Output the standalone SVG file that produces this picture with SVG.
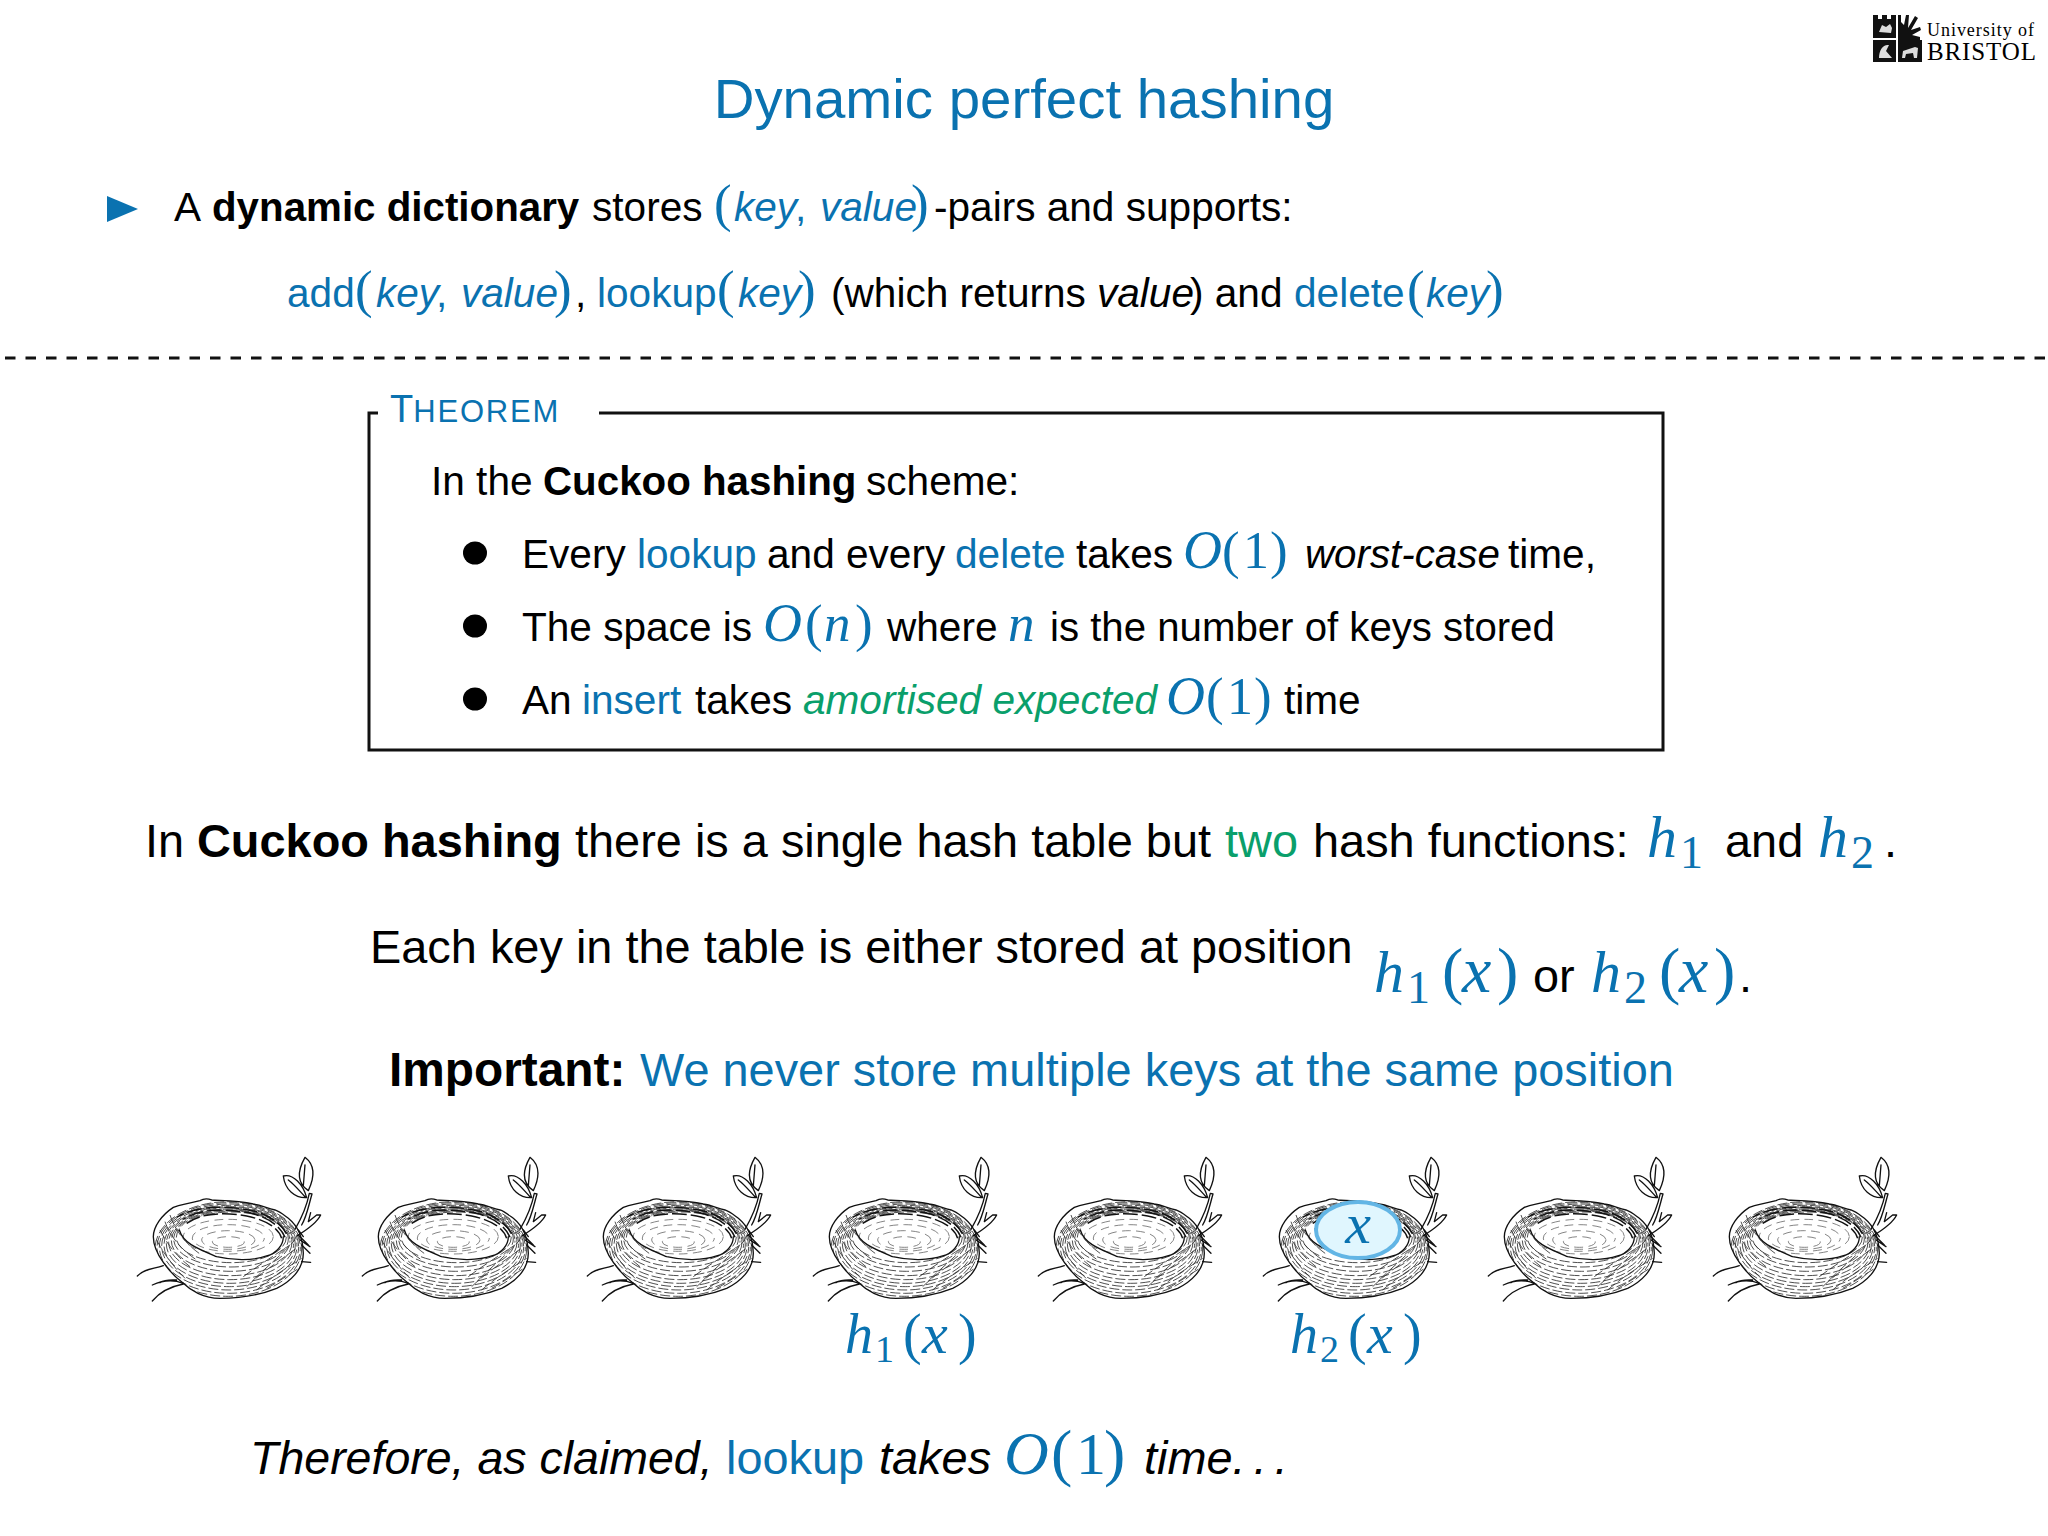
<svg xmlns="http://www.w3.org/2000/svg" xmlns:xlink="http://www.w3.org/1999/xlink" width="2048" height="1536" viewBox="0 0 2048 1536">
<style>
text{font-family:"Liberation Sans",Arial,sans-serif;fill:#000;font-size:40.6px}
.b{font-weight:700;font-size:40.3px}.i{font-style:italic}
.bl{fill:#0a72b0}.gr{fill:#0a9f6b}
.m{font-family:"Liberation Serif","Times New Roman",serif;font-style:italic;fill:#0a72b0}
.r{font-family:"Liberation Serif","Times New Roman",serif;fill:#0a72b0}
.p{font-size:53px}
.big{font-size:46.9px}
.big .b{font-size:46.9px}
.o{fill:none;stroke:#111;stroke-width:4;stroke-linecap:round;stroke-linejoin:round}
.h{fill:none;stroke:#333;stroke-width:2.6;stroke-dasharray:30 9}
.h2{fill:none;stroke:#666;stroke-width:2.4;stroke-dasharray:26 16}
.k{fill:none;stroke:#111;stroke-width:4.5;stroke-dasharray:44 12}
</style>
<defs>
<clipPath id="nc"><path d="M190,460C150,430 100,370 100,320C100,290 125,255 160,232C190,218 240,210 320,212C390,212 470,235 505,265C535,290 550,320 550,370C550,420 510,455 470,475C420,495 360,505 300,505C250,505 210,480 190,460Z"/></clipPath>
<g id="nest">
<path fill="#fff" d="M190,460C150,430 100,370 100,320C100,290 125,255 160,232C190,218 240,210 320,212C390,212 470,235 505,265C535,290 550,320 550,370C550,420 510,455 470,475C420,495 360,505 300,505C250,505 210,480 190,460Z"/>
<g clip-path="url(#nc)">
<ellipse class="h" cx="334" cy="322" rx="165" ry="76"/>
<ellipse class="h" cx="333" cy="327" rx="172" ry="84" stroke-dashoffset="12"/>
<ellipse class="h" cx="332" cy="332" rx="178" ry="92" stroke-dashoffset="24"/>
<ellipse class="h" cx="331" cy="337" rx="185" ry="100"/>
<ellipse class="h" cx="330" cy="341" rx="191" ry="108" stroke-dashoffset="17"/>
<ellipse class="h" cx="329" cy="345" rx="197" ry="115" stroke-dashoffset="5"/>
<ellipse class="h" cx="328" cy="348" rx="203" ry="122" stroke-dashoffset="28"/>
<ellipse class="h" cx="327" cy="351" rx="209" ry="129" stroke-dashoffset="11"/>
<ellipse class="h" cx="326" cy="354" rx="215" ry="136" stroke-dashoffset="20"/>
<ellipse class="h" cx="325" cy="357" rx="220" ry="142"/>
<path class="h" d="M380,470C420,430 470,400 535,350M410,480C450,445 490,420 545,385M440,475C470,460 510,430 545,410M400,450C440,410 480,380 525,330M370,440C410,410 450,385 510,345"/>
<path class="h" d="M120,300C140,340 170,380 210,410M135,275C150,320 185,360 230,390M110,330C130,370 160,410 195,445M150,255C165,300 195,340 240,372"/>
</g>
<path fill="#fff" d="M178,300C190,275 240,250 300,255C380,258 470,285 490,320C495,345 470,372 440,378C400,392 340,392 290,380C230,355 190,340 178,300Z"/>
<path class="k" d="M200,280C240,250 310,245 380,258C430,268 475,290 485,325"/>
<path class="k" d="M170,262C230,225 330,225 410,245C450,258 490,285 505,320" stroke-dashoffset="20"/>
<path class="k" d="M190,268C240,235 320,235 395,250C440,262 480,285 495,322" stroke-dashoffset="36"/>
<ellipse class="h2" cx="325" cy="320" rx="135" ry="52"/>
<ellipse class="h2" cx="325" cy="324" rx="108" ry="40" stroke-dashoffset="14"/>
<ellipse class="h2" cx="325" cy="330" rx="80" ry="28" stroke-dashoffset="6"/>
<ellipse class="h2" cx="325" cy="336" rx="48" ry="16"/>
<path class="o" d="M190,460C150,430 100,370 100,320C100,290 125,255 160,232C185,222 190,225 240,212C250,206 265,206 275,210C300,212 350,210 400,222C425,225 440,235 465,240C480,245 495,258 505,265C535,290 548,320 550,370C550,420 510,455 470,475C420,495 360,505 300,505C250,505 210,480 190,460"/>
<path class="o" d="M178,300C190,340 230,355 290,380C340,392 400,392 440,378C470,370 490,345 490,320"/>
<path class="o" d="M52,438C75,415 100,418 130,407M190,460C160,448 130,450 97,465M190,462C150,470 120,485 97,513M120,458C135,448 150,450 170,450"/>
<path class="o" d="M530,318C560,300 590,280 602,255L590,255L565,275L572,248M545,285C560,260 565,230 576,192L568,190C560,230 550,255 525,298"/>
<path class="o" d="M555,82C585,105 585,140 565,182C540,165 525,135 555,82M555,105L550,168M490,138C520,130 550,165 560,203C525,205 495,180 490,138M505,150C525,165 540,185 555,200"/>
<path class="o" d="M535,315L565,345M540,330L570,350M545,345L570,370M545,395L572,397M535,300L550,320"/>
</g>
</defs>

<text x="1024" y="118" text-anchor="middle" class="bl" style="font-size:56.4px">Dynamic perfect hashing</text>

<g id="logo">
<path fill="#111" d="M1873,15h5v4h4v-4h5v4h4v-4h5v23h-23zM1873,40h23v22h-23zM1898,40h24v22h-24z"/>
<path fill="#111" d="M1898,15h3v7l3,3l2,-10l3,0l-1,13l7,-12l3,2l-7,12l9,-3l1,3l-9,5l8,2v3h-22z"/>
<path d="M1879,32l3,-7l4,2l4,-3l2,4l-1,5zM1879,58c0,-8 4,-14 10,-13l-3,6l6,7zM1903,51l12,-4l3,1l-1,10h-3l-1,-5l-7,1l-1,4h-3z" fill="#ddd"/>
<text x="1927" y="36" style="font-family:'Liberation Serif',serif;font-size:18px" fill="#222" textLength="107">University of</text>
<text x="1927" y="60" style="font-family:'Liberation Serif',serif;font-size:25px" fill="#111" textLength="109">BRISTOL</text>
</g>

<polygon points="107,196 138,209 107,222" fill="#0a72b0"/>
<text y="221">
<tspan x="174">A</tspan><tspan x="212" class="b">dynamic dictionary</tspan><tspan x="592">stores</tspan>
<tspan x="714" class="r p">(</tspan><tspan x="734" class="bl i">key</tspan><tspan x="795" class="bl">,</tspan><tspan x="820" class="bl i">value</tspan><tspan x="911" class="r p">)</tspan><tspan x="934">-pairs and supports:</tspan>
</text>
<text y="307">
<tspan x="287" class="bl">add</tspan><tspan x="355" class="r p">(</tspan><tspan x="376" class="bl i">key</tspan><tspan x="436" class="bl">,</tspan><tspan x="461" class="bl i">value</tspan><tspan x="554" class="r p">)</tspan><tspan x="575">,</tspan>
<tspan x="597" class="bl">lookup</tspan><tspan x="717" class="r p">(</tspan><tspan x="738" class="bl i">key</tspan><tspan x="798" class="r p">)</tspan>
<tspan x="831">(which returns</tspan><tspan x="1097" class="i">value</tspan><tspan x="1190">) and</tspan><tspan x="1294" class="bl">delete</tspan><tspan x="1407" class="r p">(</tspan><tspan x="1426" class="bl i">key</tspan><tspan x="1486" class="r p">)</tspan>
</text>

<line x1="5" y1="358" x2="2046" y2="358" stroke="#111" stroke-width="3" stroke-dasharray="10.5 10"/>

<g id="theorem">
<path d="M378,413H369V750H1663V413H599" fill="none" stroke="#111" stroke-width="3"/>
<text x="390" y="422" class="bl" style="font-size:38px">T<tspan style="font-size:31px;letter-spacing:1.8px">HEOREM</tspan></text>
<text y="495"><tspan x="431">In the</tspan><tspan x="543" class="b">Cuckoo hashing</tspan><tspan x="866">scheme:</tspan></text>
<ellipse cx="475" cy="553" rx="12" ry="11.5"/>
<ellipse cx="475" cy="626" rx="12" ry="11.5"/>
<ellipse cx="475" cy="699" rx="12" ry="11.5"/>
<text y="568"><tspan x="522">Every</tspan><tspan x="637" class="bl">lookup</tspan><tspan x="767">and every</tspan><tspan x="955" class="bl">delete</tspan><tspan x="1076">takes</tspan>
<tspan x="1183" class="m" style="font-size:54px">O</tspan><tspan x="1222" class="r p">(</tspan><tspan x="1243" class="r" style="font-size:52px">1</tspan><tspan x="1270" class="r p">)</tspan>
<tspan x="1305" class="i" style="font-size:40.3px">worst-case</tspan><tspan x="1508">time,</tspan></text>
<text y="641"><tspan x="522">The space is</tspan>
<tspan x="763" class="m" style="font-size:54px">O</tspan><tspan x="805" class="r p">(</tspan><tspan x="824" class="m" style="font-size:53px">n</tspan><tspan x="855" class="r p">)</tspan>
<tspan x="887">where</tspan><tspan x="1008" class="m" style="font-size:53px">n</tspan><tspan x="1050" style="font-size:40.2px">is the number of keys stored</tspan></text>
<text y="714"><tspan x="522">An</tspan><tspan x="582" class="bl">insert</tspan><tspan x="695">takes</tspan><tspan x="803" class="gr i">amortised expected</tspan>
<tspan x="1166" class="m" style="font-size:54px">O</tspan><tspan x="1206" class="r p">(</tspan><tspan x="1227" class="r" style="font-size:52px">1</tspan><tspan x="1254" class="r p">)</tspan>
<tspan x="1284">time</tspan></text>
</g>

<text y="857" class="big"><tspan x="145">In</tspan><tspan x="197" class="b">Cuckoo hashing</tspan><tspan x="575">there is a single hash table but</tspan><tspan x="1225" class="gr">two</tspan><tspan x="1313">hash functions:</tspan>
<tspan x="1647" class="m" style="font-size:60px">h</tspan><tspan x="1680" y="868" class="r" style="font-size:46px">1</tspan><tspan x="1725" y="857">and</tspan><tspan x="1818" class="m" style="font-size:60px">h</tspan><tspan x="1851" y="868" class="r" style="font-size:46px">2</tspan><tspan x="1884" y="857">.</tspan></text>

<text y="963" x="370" class="big">Each key in the table is either stored at position</text>
<text y="992" class="big"><tspan x="1374" class="m" style="font-size:60px">h</tspan><tspan x="1407" y="1003" class="r" style="font-size:46px">1</tspan><tspan x="1442" y="992" class="r" style="font-size:64px">(</tspan><tspan x="1462" class="m" style="font-size:66px">x</tspan><tspan x="1497" class="r" style="font-size:64px">)</tspan>
<tspan x="1533">or</tspan><tspan x="1591" class="m" style="font-size:60px">h</tspan><tspan x="1624" y="1003" class="r" style="font-size:46px">2</tspan><tspan x="1659" y="992" class="r" style="font-size:64px">(</tspan><tspan x="1679" class="m" style="font-size:66px">x</tspan><tspan x="1714" class="r" style="font-size:64px">)</tspan><tspan x="1739">.</tspan></text>

<text y="1086" class="big"><tspan x="389" class="b" style="font-size:47.8px">Important:</tspan><tspan x="640" class="bl">We never store multiple keys at the same position</tspan></text>

<g id="nests">
<use xlink:href="#nest" href="#nest" transform="translate(120,1130) scale(.3333)"/>
<use xlink:href="#nest" href="#nest" transform="translate(345,1130) scale(.3333)"/>
<use xlink:href="#nest" href="#nest" transform="translate(570,1130) scale(.3333)"/>
<use xlink:href="#nest" href="#nest" transform="translate(796,1130) scale(.3333)"/>
<use xlink:href="#nest" href="#nest" transform="translate(1021,1130) scale(.3333)"/>
<use xlink:href="#nest" href="#nest" transform="translate(1246,1130) scale(.3333)"/>
<use xlink:href="#nest" href="#nest" transform="translate(1471,1130) scale(.3333)"/>
<use xlink:href="#nest" href="#nest" transform="translate(1696,1130) scale(.3333)"/>
</g>
<g id="item-x">
<ellipse cx="1358" cy="1230" rx="42" ry="28" fill="#e0f6fe" stroke="#62b5e5" stroke-width="4"/>
<text x="1358" y="1243" text-anchor="middle" class="m" style="font-size:58px">x</text>
</g>
<text y="1353"><tspan x="845" class="m" style="font-size:56px">h</tspan><tspan x="875" y="1362" class="r" style="font-size:38px">1</tspan><tspan x="903" y="1353" class="r" style="font-size:56px">(</tspan><tspan x="922" class="m" style="font-size:58px">x</tspan><tspan x="958" class="r" style="font-size:56px">)</tspan></text>
<text y="1353"><tspan x="1290" class="m" style="font-size:56px">h</tspan><tspan x="1320" y="1362" class="r" style="font-size:38px">2</tspan><tspan x="1348" y="1353" class="r" style="font-size:56px">(</tspan><tspan x="1367" class="m" style="font-size:58px">x</tspan><tspan x="1403" class="r" style="font-size:56px">)</tspan></text>

<text y="1474" class="big"><tspan x="250" class="i" style="font-size:46.5px">Therefore, as claimed,</tspan><tspan x="726" class="bl">lookup</tspan><tspan x="879" class="i">takes</tspan>
<tspan x="1004" class="m" style="font-size:62px">O</tspan><tspan x="1051" class="r" style="font-size:64px">(</tspan><tspan x="1076" class="r" style="font-size:60px">1</tspan><tspan x="1104" class="r" style="font-size:64px">)</tspan>
<tspan x="1144" class="i" style="word-spacing:-5px">time. . .</tspan></text>
</svg>
